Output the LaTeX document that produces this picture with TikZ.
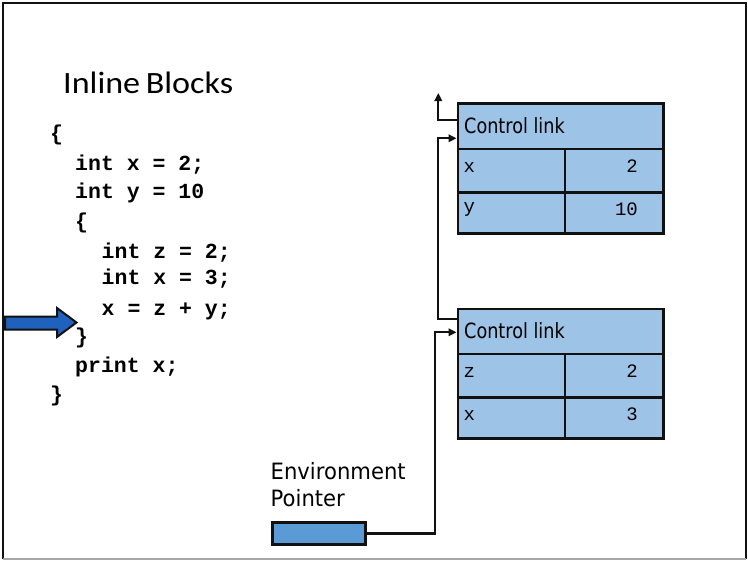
\documentclass[tikz,border=0pt]{standalone}
\usepackage{fontspec}
\usetikzlibrary{arrows.meta}
\setmainfont{Carlito}
\newfontfamily\codefont{Liberation Mono}
\newfontfamily\labfont[FakeStretch=0.84]{DejaVu Sans}
\newfontfamily\envfont[FakeStretch=0.94]{DejaVu Sans}
\definecolor{recfill}{HTML}{9DC3E6}
\definecolor{envfill}{HTML}{5B9BD5}
\definecolor{arrfill}{HTML}{1F62BE}
\definecolor{ink}{HTML}{111111}
\tikzset{
  code/.style={anchor=base west, inner sep=0pt, font=\codefont\bfseries\fontsize{21.5}{22}\selectfont},
  cell/.style={draw=ink, line width=2.8pt, fill=recfill, anchor=north west, inner sep=0pt},
  ctl/.style={draw=ink, line width=2.8pt, fill=recfill, anchor=north west, inner sep=0pt, minimum width=205.5pt, minimum height=45.5pt},
  celltxt/.style={inner sep=0pt, font=\codefont\fontsize{19}{19}\selectfont},
  lab/.style={anchor=base west, inner sep=0pt, font=\labfont\fontsize{21}{21}\selectfont},
  envlab/.style={anchor=base west, inner sep=0pt, font=\envfont\fontsize{22.5}{22.5}\selectfont},
  conn/.style={draw=ink, line width=2.2pt},
  arr/.style={conn, -{Triangle[length=8pt,width=7.5pt]}},
}
\begin{document}
\begin{tikzpicture}[x=1pt, y=-1pt]
\useasboundingbox (0,0) rectangle (748,562);
% slide frame
\draw[ink, line width=1.6pt] (3,559) -- (3,3) -- (746,3) -- (746,559);
\draw[gray!70, line width=1.6pt] (3,559) -- (746,559);

% title
\node[anchor=base west, inner sep=0pt, font=\fontsize{31}{31}\selectfont] (title) at (63,93.5)
  {\scalebox{1.1}[1]{Inline\,Blocks}};

% source code
\node[code] (l1) at (50,140) {\{};
\node[code] (l2) at (75,170) {int x = 2;};
\node[code] (l3) at (75,198) {int y = 10};
\node[code] (l4) at (75,228) {\{};
\node[code] (l5) at (101.5,258) {int z = 2;};
\node[code] (l6) at (101.5,284.5) {int x = 3;};
\node[code] (l7) at (101.5,315) {x = z + y;};
\node[code] (l8) at (75,343) {\}};
\node[code] (l9) at (75,372) {print x;};
\node[code] (l10) at (50,401) {\}};

% current-line marker
\draw[ink, fill=arrfill, line width=2pt, line join=miter]
  (5,316.5) -- (57,316.5) -- (57,308) -- (76.5,322.5) -- (57,337) -- (57,329.5) -- (5,329.5) -- cycle;

% activation record of the outer block
\node[ctl] (cl1) at (456.5,102) {};
\node[cell, minimum width=107pt, minimum height=43.5pt] (xa) at (456.5,147.5) {};
\node[cell, minimum width=107pt, minimum height=41pt] (ya) at (456.5,191) {};
\node[cell, minimum width=98.5pt, minimum height=43.5pt] (xv) at (563.5,147.5) {};
\node[cell, minimum width=98.5pt, minimum height=41pt] (yv) at (563.5,191) {};
\node[lab] (cl1t) at (464,133.3) {Control link};
\node[celltxt, anchor=base west] (xan) at (463.5,172.3) {x};
\node[celltxt, anchor=base west] (yan) at (463.5,212) {y};
\node[celltxt, anchor=base east] (xvn) at (638,172.3) {2};
\node[celltxt, anchor=base east] (yvn) at (638,215.7) {10};

% activation record of the inner block
\node[ctl] (cl2) at (456.5,307.5) {};
\node[cell, minimum width=107pt, minimum height=43.5pt] (za) at (456.5,352.5) {};
\node[cell, minimum width=107pt, minimum height=41pt] (xb) at (456.5,396) {};
\node[cell, minimum width=98.5pt, minimum height=43.5pt] (zv) at (563.5,352.5) {};
\node[cell, minimum width=98.5pt, minimum height=41pt] (xbv) at (563.5,396) {};
\node[lab] (cl2t) at (464,338.3) {Control link};
\node[celltxt, anchor=base west] (zan) at (463.5,377.8) {z};
\node[celltxt, anchor=base west] (xbn) at (463.5,420.7) {x};
\node[celltxt, anchor=base east] (zvn) at (638,377.8) {2};
\node[celltxt, anchor=base east] (xbvn) at (638,420.7) {3};

% environment pointer
\node[envlab] (envt1) at (270.5,479.5) {Environment};
\node[envlab] (envt2) at (270.5,506) {Pointer};
\node[draw=ink, line width=2.8pt, fill=envfill, anchor=north west, inner sep=0pt,
      minimum width=93pt, minimum height=22pt] (env) at (270.8,521) {};

% links
\coordinate (up) at (438.3,93);
\draw[arr] (cl1.west |- 0,120) -| (up);
\draw[arr] (cl2.west |- 0,319.3) -| (438.3,138.3) -- (cl1.west |- 0,138.3);
\draw[arr] (env.east) -| (435,332.3) -- (cl2.west |- 0,332.3);
\end{tikzpicture}
\end{document}
